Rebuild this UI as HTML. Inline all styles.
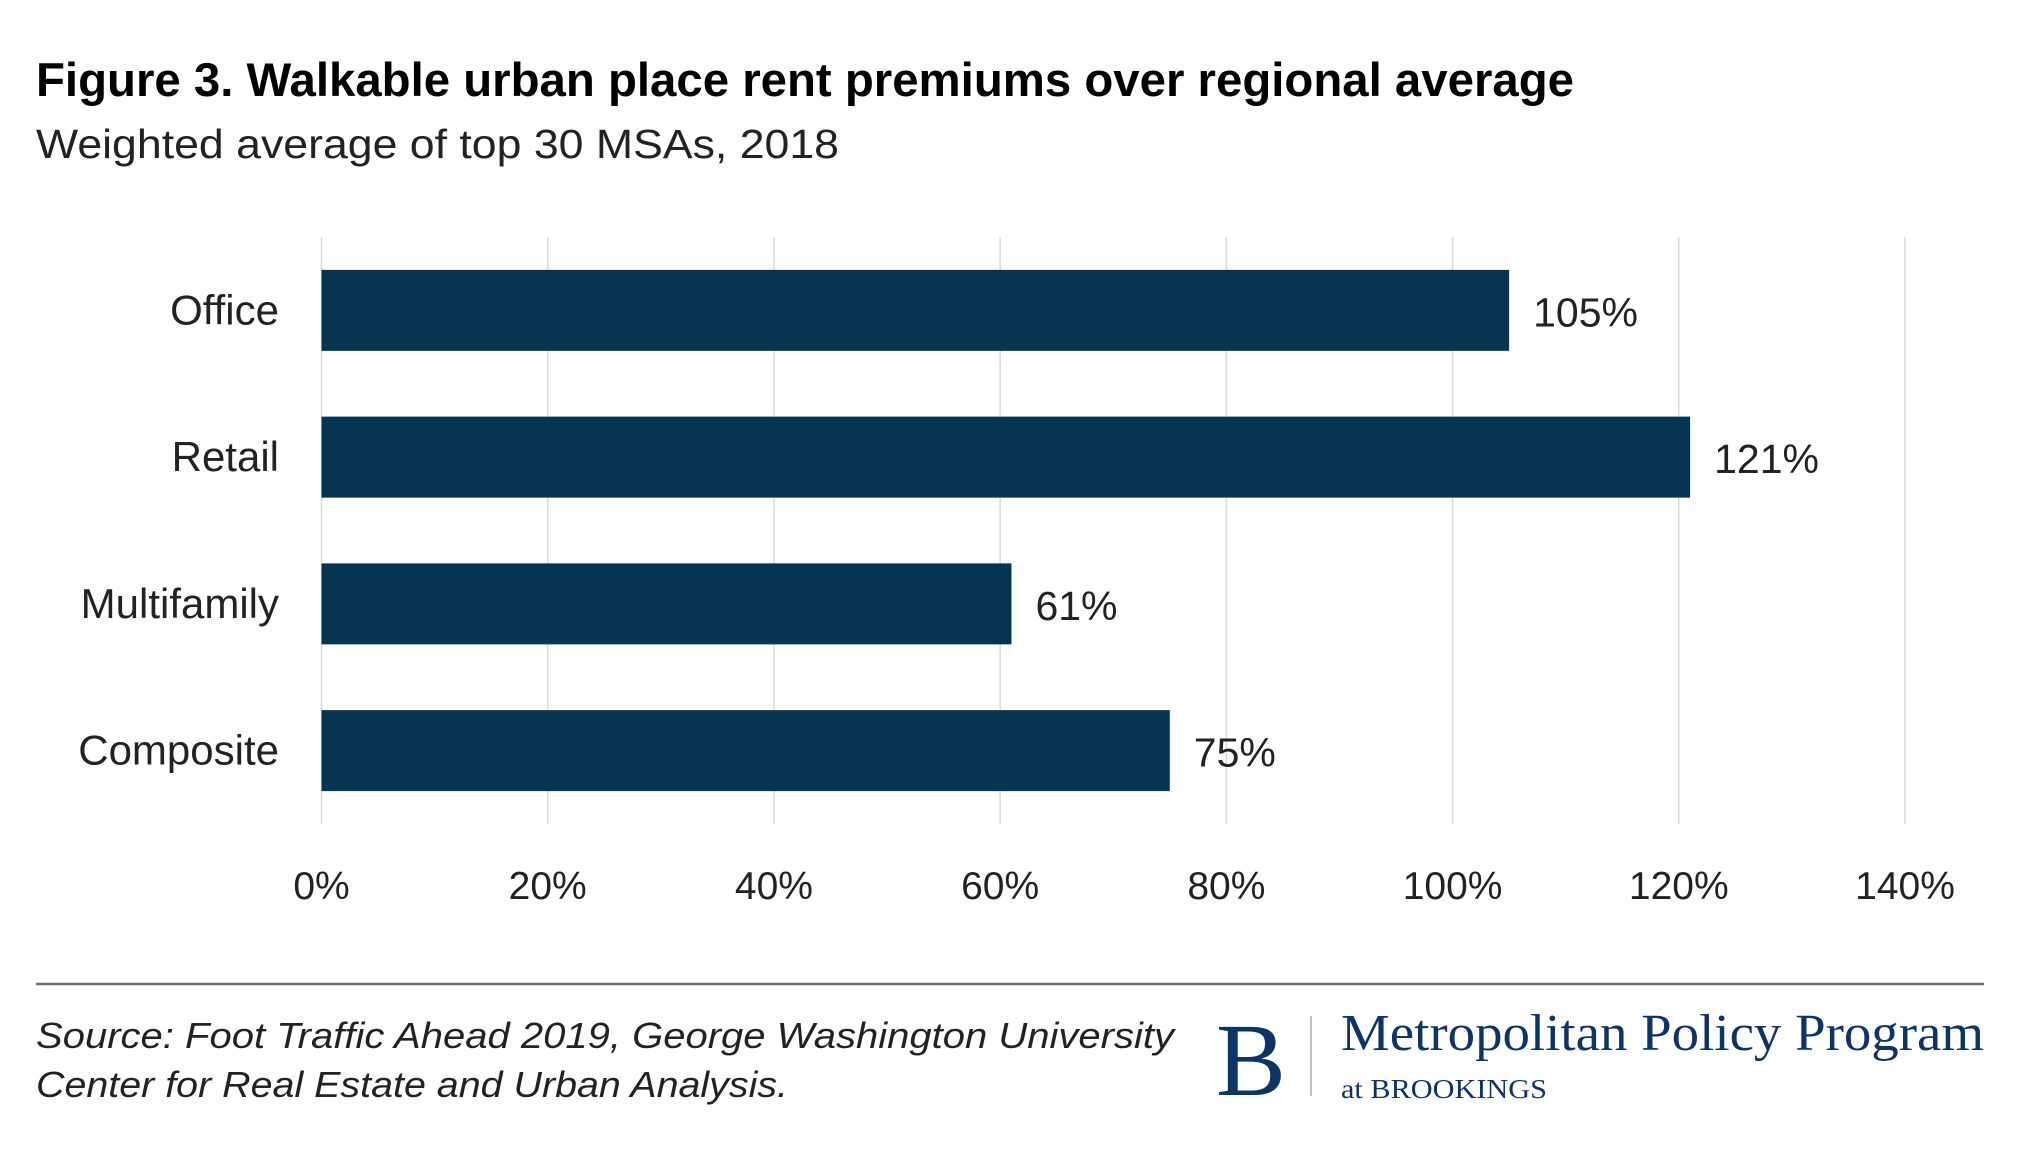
<!DOCTYPE html>
<html><head><meta charset="utf-8"><style>
html,body{margin:0;padding:0;background:#fff}
svg{display:block}
text{font-family:"Liberation Sans",sans-serif}
text.serif{font-family:"Liberation Serif",serif}
</style></head><body>
<svg id="c" width="2017" height="1151" viewBox="0 0 2017 1151">
<text x="36" y="96" font-size="47" font-weight="bold" fill="#000" textLength="1538" lengthAdjust="spacingAndGlyphs">Figure 3. Walkable urban place rent premiums over regional average</text>
<text x="36" y="158" font-size="41" fill="#222" textLength="803" lengthAdjust="spacingAndGlyphs">Weighted average of top 30 MSAs, 2018</text>
<g id="grid"></g><g id="bars"></g>
<line x1="36" y1="984" x2="1984" y2="984" stroke="#6b6f75" stroke-width="2.5"/>
<text x="36" y="1048" font-size="36" font-style="italic" fill="#222" textLength="1138" lengthAdjust="spacingAndGlyphs">Source: Foot Traffic Ahead 2019, George Washington University</text>
<text x="36" y="1097" font-size="36" font-style="italic" fill="#222" textLength="752" lengthAdjust="spacingAndGlyphs">Center for Real Estate and Urban Analysis.</text>
<g>
<text class="serif" x="1216" y="1095" font-size="104" fill="#0c3466" textLength="70" lengthAdjust="spacingAndGlyphs">B</text>
<line x1="1311" y1="1016" x2="1311" y2="1096" stroke="#aab" stroke-width="1.5"/>
<text class="serif" x="1341" y="1050" font-size="52" fill="#0c3466" textLength="643" lengthAdjust="spacingAndGlyphs">Metropolitan Policy Program</text>
<text class="serif" x="1341" y="1098" font-size="27" fill="#0c3466" textLength="206" lengthAdjust="spacingAndGlyphs">at BROOKINGS</text>
</g>
</svg>
<script>
const categories=["Office","Retail","Multifamily","Composite"];
const values=[105,121,61,75];
const valueLabels=["105%","121%","61%","75%"];
const ticks=[0,20,40,60,80,100,120,140];
const tickLabels=["0%","20%","40%","60%","80%","100%","120%","140%"];
const NS="http://www.w3.org/2000/svg";
const x0=321.5,x1=1905,xmax=140,gTop=237,gBot=824;
const X=v=>x0+(v/xmax)*(x1-x0);
const band=(gBot-gTop)/categories.length;
const Y=i=>gTop+band*(i+0.5);
const bh=81;
function mk(t,a,p){const e=document.createElementNS(NS,t);for(const k in a)e.setAttribute(k,a[k]);p.appendChild(e);return e;}
const grid=document.getElementById('grid'),bars=document.getElementById('bars');
ticks.forEach((t,i)=>{
 const l=mk('line',{x1:X(t),x2:X(t),y1:gTop,y2:gBot,stroke:'#d9d9d9','stroke-width':1.5},grid);
 
 
 const tx=mk('text',{x:X(t),y:899,'font-size':39,'text-anchor':'middle',fill:'#222'},grid);
 tx.textContent=tickLabels[i];
 
 
});
categories.forEach((c,i)=>{
 const r=mk('rect',{x:X(0),y:Y(i)-bh/2,width:X(values[i])-X(0),height:bh,fill:'#063554'},bars);
 
 
 const cl=mk('text',{x:279,y:Y(i)+14,'font-size':42,'text-anchor':'end',fill:'#222'},bars);
 cl.textContent=c;
 
 
 const vl=mk('text',{x:X(values[i])+24,y:Y(i)+16,'font-size':41,fill:'#222'},bars);
 vl.textContent=valueLabels[i];
 
 
});
</script>
</body></html>
